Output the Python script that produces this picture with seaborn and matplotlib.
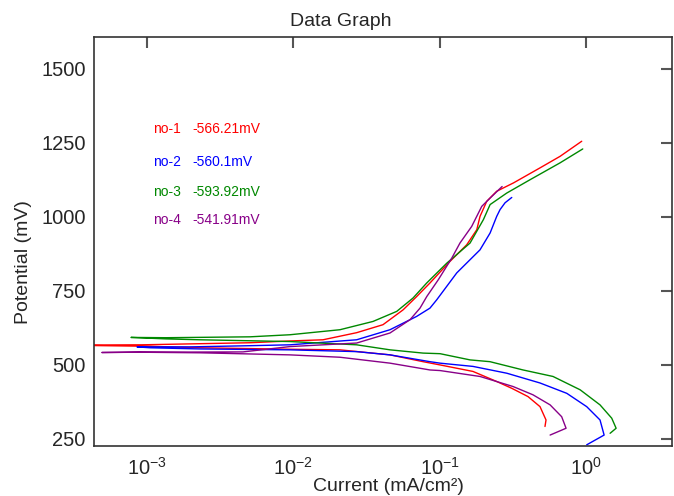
import numpy as np
import pandas as pd
import matplotlib
matplotlib.use("Agg")
import matplotlib.pyplot as plt
import seaborn as sns

# log10 of current (mA/cm2) and potential (mV), in scan order
no1_log_current = [-0.280, -0.273, -0.314, -0.396, -0.507, -0.610, -0.772, -0.997, -1.113, -1.339,
                   -1.681, -2.023, -2.638, -2.980, -3.600, -3.037, -2.296, -2.023, -1.797, -1.567,
                   -1.387, -1.250, -1.157, -1.066, -0.929, -0.815, -0.746, -0.724, -0.678, -0.610,
                   -0.496, -0.314, -0.177, -0.029]
no1_potential = [291, 313, 358, 392, 420, 443, 477, 499, 510, 533,
                 550, 552, 557, 562, 566, 567, 574, 580, 584, 608,
                 635, 685, 730, 776, 849, 905, 956, 1001, 1052, 1086,
                 1114, 1165, 1204, 1255]

no2_log_current = [0.005, 0.124, 0.096, 0.005, -0.131, -0.314, -0.541, -0.772, -0.997, -1.066,
                   -1.339, -1.567, -2.023, -2.638, -2.979, -3.068, -2.706, -2.296, -2.023, -1.567,
                   -1.339, -1.157, -1.066, -1.020, -0.883, -0.724, -0.655, -0.610, -0.587,
                   -0.553, -0.507]
no2_potential = [229, 262, 313, 358, 403, 438, 471, 494, 505, 510,
                 533, 544, 550, 553, 557, 560, 560, 564, 567, 584,
                 618, 663, 691, 719, 810, 888, 945, 1001, 1024,
                 1047, 1065]

no3_log_current = [0.165, 0.206, 0.176, 0.096, -0.040, -0.225, -0.430, -0.656, -0.792, -0.997,
                   -1.113, -1.339, -1.567, -2.023, -2.638, -2.870, -3.109, -2.870, -2.296, -2.023,
                   -1.681, -1.455, -1.293, -1.182, -1.088, -0.951, -0.792, -0.701, -0.655, -0.541,
                   -0.382, -0.177, -0.022]
no3_potential = [268, 285, 319, 364, 415, 460, 482, 510, 516, 537,
                 539, 550, 567, 578, 584, 587, 592, 591, 594, 601,
                 618, 646, 680, 725, 776, 843, 911, 990, 1041, 1080,
                 1125, 1182, 1229]

no4_log_current = [-0.245, -0.136, -0.166, -0.245, -0.362, -0.498, -0.724, -0.997, -1.066, -1.339,
                   -1.681, -2.023, -2.638, -3.048, -3.308, -3.096, -2.344, -2.023, -1.567, -1.339,
                   -1.202, -1.134, -1.088, -1.009, -0.917, -0.861, -0.781, -0.712, -0.655, -0.573]
no4_potential = [262, 285, 324, 364, 398, 426, 460, 480, 482, 505,
                 525, 533, 540, 542, 541, 542, 543, 561, 573, 607,
                 652, 691, 730, 787, 860, 911, 967, 1035, 1063, 1102]

samples = ["no-1", "no-2", "no-3", "no-4"]
ecorr_labels = ["-566.21mV", "-560.1mV", "-593.92mV", "-541.91mV"]
colors = ["#ff0000", "#0000ff", "#008800", "#880088"]

y_ticks = [250, 500, 750, 1000, 1250, 1500]
x_ticks = [1e-3, 1e-2, 1e-1, 1e0]

sns.set_style("white")
plt.rcParams["font.family"] = ["Liberation Sans", "DejaVu Sans"]

frames = []
for name, logc, pot in zip(
    samples,
    [no1_log_current, no2_log_current, no3_log_current, no4_log_current],
    [no1_potential, no2_potential, no3_potential, no4_potential],
):
    frames.append(pd.DataFrame({
        "sample": name,
        "current": 10.0 ** np.asarray(logc),
        "potential": pot,
    }))
df = pd.concat(frames, ignore_index=True)

fig = plt.figure(figsize=(6.74, 4.96), dpi=100)
ax = fig.add_axes([0.1395, 0.1008, 0.8575, 0.8256])

sns.lineplot(
    data=df, x="current", y="potential", hue="sample", units="sample",
    estimator=None, sort=False, palette=colors, linewidth=1.0, legend=False, ax=ax,
)

ax.set_xscale("log")
ax.set_xlim(4.35e-4, 3.87)
ax.set_ylim(225, 1609)
ax.set_xticks(x_ticks)
ax.set_yticks(y_ticks)
ax.minorticks_off()
ax.yaxis.set_major_formatter(matplotlib.ticker.FormatStrFormatter("%d"))

ax.tick_params(direction="in", length=8, width=1.5, color="#555555",
               top=True, right=True, labelsize=14.5)
ax.tick_params(axis="x", pad=8)
ax.tick_params(axis="y", pad=6)
for spine in ax.spines.values():
    spine.set_color("#333333")
    spine.set_linewidth(1.2)

ax.set_xlabel("Current (mA/cm²)", fontsize=14)
ax.set_ylabel("Potential (mV)", fontsize=14)
ax.xaxis.set_label_coords(0.51, -0.078)
ax.yaxis.set_label_coords(-0.107, 0.448)

fig.text(0.506, 1 - 22 / 496, "Data Graph", ha="center", va="center", fontsize=14)

row_y = [0.774, 0.694, 0.621, 0.552]
for name, val, col, yy in zip(samples, ecorr_labels, colors, row_y):
    ax.text(0.102, yy, name, color=col, fontsize=10, va="center", transform=ax.transAxes)
    ax.text(0.171, yy, val, color=col, fontsize=10, va="center", transform=ax.transAxes)

fig.savefig("out.png", dpi=100)
